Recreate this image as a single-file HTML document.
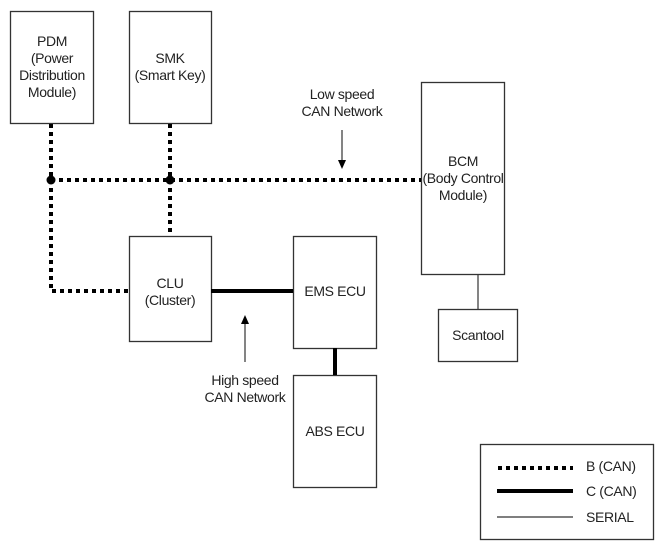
<!DOCTYPE html>
<html><head><style>body{margin:0;background:#fff}</style></head><body>
<svg width="664" height="551" viewBox="0 0 664 551" xmlns="http://www.w3.org/2000/svg" font-family="Liberation Sans, sans-serif" font-size="14" letter-spacing="-0.35" fill="#222">
<g fill="#fff" stroke="#333" stroke-width="1.3">
<rect x="10.5" y="11.5" width="83" height="112"/>
<rect x="129.5" y="11.5" width="82" height="112"/>
<rect x="129.5" y="236.5" width="82" height="105"/>
<rect x="293.5" y="236.5" width="83" height="112"/>
<rect x="293.5" y="375.5" width="83" height="112"/>
<rect x="421.5" y="82.5" width="83" height="192"/>
<rect x="438.5" y="309.5" width="79" height="52"/>
<rect x="480.5" y="444.5" width="173" height="95"/>
</g>
<g stroke="#000" stroke-width="4" stroke-dasharray="4 4" fill="none">
<path d="M51 124 V291 H129"/>
<path d="M170 124 V236"/>
<path d="M51 180 H421"/>
<path d="M498 468 H573"/>
</g>
<circle cx="51" cy="180" r="4.5" fill="#000"/>
<circle cx="170" cy="180" r="4.5" fill="#000"/>
<g stroke="#000" stroke-width="4">
<path d="M211 291 H293"/>
<path d="M335 348 V375"/>
<path d="M497 491 H573"/>
</g>
<g stroke="#333" stroke-width="1.2">
<path d="M478 275 V309"/>
<path d="M497 517 H573"/>
<path d="M342 130 V162"/>
<path d="M245 362 V322"/>
</g>
<path d="M338 160 L342 169 L346 160 Z" fill="#000"/>
<path d="M241 324 L245 315 L249 324 Z" fill="#000"/>
<g text-anchor="middle">
<text x="52" y="46">PDM</text><text x="52" y="63">(Power</text><text x="52" y="80">Distribution</text><text x="52" y="97">Module)</text>
<text x="170" y="63">SMK</text><text x="170" y="80">(Smart Key)</text>
<text x="342" y="99">Low speed</text><text x="342" y="116">CAN Network</text>
<text x="463" y="166">BCM</text><text x="463" y="183">(Body Control</text><text x="463" y="200">Module)</text>
<text x="170" y="288">CLU</text><text x="170" y="305">(Cluster)</text>
<text x="335" y="296">EMS ECU</text>
<text x="335" y="436">ABS ECU</text>
<text x="478" y="340">Scantool</text>
<text x="245" y="385">High speed</text><text x="245" y="402">CAN Network</text>
</g>
<text x="586" y="471">B (CAN)</text>
<text x="586" y="496">C (CAN)</text>
<text x="586" y="522">SERIAL</text>
</svg>
</body></html>
